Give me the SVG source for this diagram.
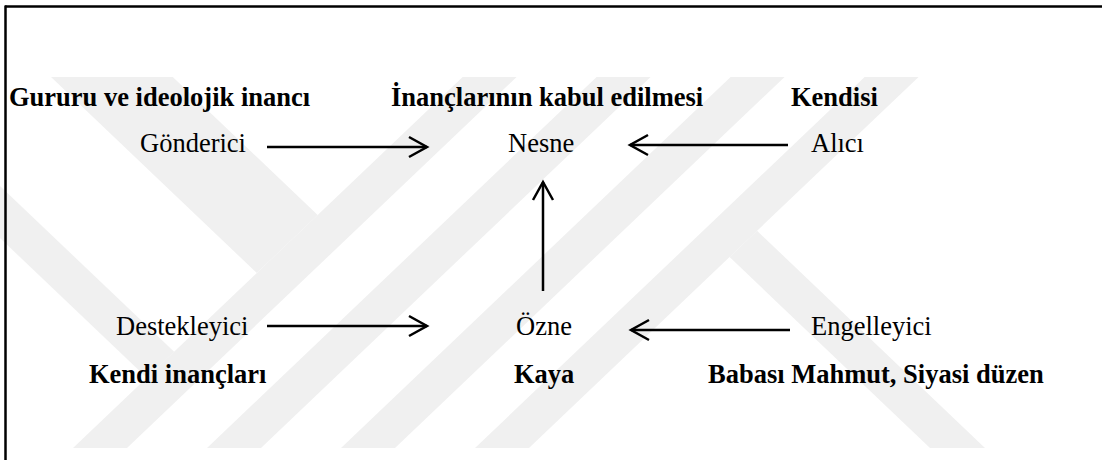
<svg xmlns="http://www.w3.org/2000/svg" width="1102" height="460" viewBox="0 0 1102 460">
  <defs>
    <style>
      .wm { fill: #f0f0f0; stroke: none; }
      .role { font-size: 26.5px; fill: #000; }
      .val { font-size: 26.5px; font-weight: bold; fill: #000; }
      .edge { stroke: #000; stroke-width: 2.5; fill: none; }
      .frame { stroke: #000; stroke-width: 2.5; fill: none; }
    </style>
    <marker id="arr" markerUnits="userSpaceOnUse" viewBox="-22 -13 26 26" markerWidth="26" markerHeight="26" refX="0" refY="0" orient="auto" overflow="visible">
      <path d="M -18 -10 L 0 0 L -18 10" fill="none" stroke="#000" stroke-width="2.5" stroke-linejoin="miter"/>
    </marker>
  </defs>

  <rect x="0" y="0" width="1102" height="460" fill="#ffffff"/>

  <g id="watermark">
    <polygon class="wm" points="73,448 127,448 516.6,77 462.6,77"/>
    <polygon class="wm" points="207,448 261,448 650.6,77 596.6,77"/>
    <polygon class="wm" points="341,448 395,448 784.6,77 730.6,77"/>
    <polygon class="wm" points="475,448 529,448 918.6,77 864.6,77"/>
    <polygon class="wm" points="51,77 172.8,77 317.7,215 256.8,273"/>
    <polygon class="wm" points="0,186 0,238 146.8,377.8 174.1,351.8"/>
    <polygon class="wm" points="757.1,230.8 985,448 930,448 729.6,257"/>
  </g>

  <g id="frame">
    <line class="frame" x1="5" y1="6.5" x2="1102" y2="6.5"/>
    <line class="frame" x1="5.5" y1="5.5" x2="5.5" y2="460"/>
  </g>

  <g id="connectors">
    <line class="edge" x1="267" y1="147" x2="427" y2="147" marker-end="url(#arr)"/>
    <line class="edge" x1="788" y1="145" x2="630" y2="145" marker-end="url(#arr)"/>
    <line class="edge" x1="543" y1="291" x2="543" y2="182" marker-end="url(#arr)"/>
    <line class="edge" x1="267" y1="326" x2="427" y2="326" marker-end="url(#arr)"/>
    <line class="edge" x1="790" y1="330" x2="631" y2="330" marker-end="url(#arr)"/>
  </g>

  <g font-family="Liberation Serif, DejaVu Serif, serif">
    <g id="node-gonderici">
      <text class="val" x="9" y="106">Gururu ve ideolojik inancı</text>
      <text class="role" x="140" y="152">Gönderici</text>
    </g>
    <g id="node-nesne">
      <text class="val" x="391" y="106">İnançlarının kabul edilmesi</text>
      <text class="role" x="508" y="152">Nesne</text>
    </g>
    <g id="node-alici">
      <text class="val" x="791" y="106">Kendisi</text>
      <text class="role" x="811" y="152">Alıcı</text>
    </g>
    <g id="node-destekleyici">
      <text class="role" x="116" y="335">Destekleyici</text>
      <text class="val" x="89" y="383">Kendi inançları</text>
    </g>
    <g id="node-ozne">
      <text class="role" x="516" y="335">Özne</text>
      <text class="val" x="514" y="383">Kaya</text>
    </g>
    <g id="node-engelleyici">
      <text class="role" x="811" y="335">Engelleyici</text>
      <text class="val" x="708" y="383">Babası Mahmut, Siyasi düzen</text>
    </g>
  </g>
</svg>
